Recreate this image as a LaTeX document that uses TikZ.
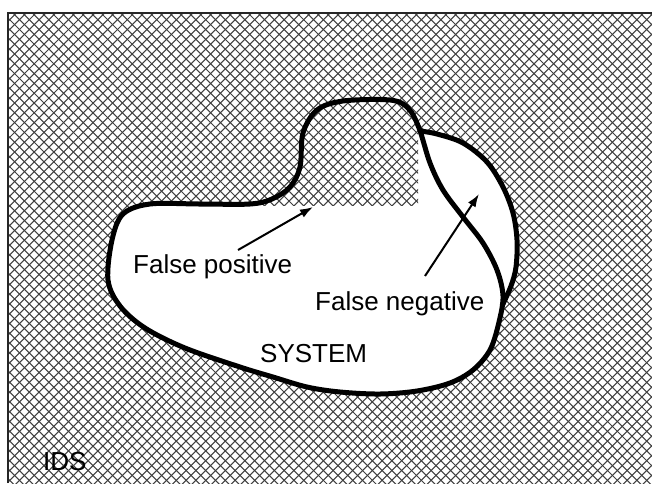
\documentclass[tikz,border=0pt]{standalone}
\usepackage{fontspec}
\setmainfont{Liberation Sans}
\usetikzlibrary{arrows.meta}
\tikzset{
  hatchline/.style={draw=black!75, line width=1.05pt},
  outline/.style={draw=black, line width=5pt, line join=round},
  lbl/.style={inner sep=0pt, anchor=base west, font=\fontsize{26}{30}\selectfont},
  pointer/.style={draw=black, line width=2pt, -{Latex[length=13pt,width=9pt]}}
}
\newcommand{\hatchall}{%
  \foreach \c in {0,9.8,...,1160} {\draw[hatchline] (\c,0) -- ({\c-500},500);}
  \foreach \c in {-500,-490.2,...,660} {\draw[hatchline] (\c,0) -- ({\c+500},500);}
}
\begin{document}
\begin{tikzpicture}[x=1pt,y=-1pt]
\useasboundingbox (0,0) rectangle (652,483);
\fill[white] (0,0) rectangle (652,483);
% hatch background (IDS)
\begin{scope}
  \clip (8,13) rectangle (652,483);
  \hatchall
\end{scope}
\draw[black!85, line width=1.5pt] (8,483) -- (8,13) -- (652,13);
% shapes
\def\systempath{plot[smooth cycle, tension=0.55] coordinates {
  (108,280) (112,240) (123,214) (150,204) (200,204) (250,204) (272,199)
  (290,187) (300,167) (303,133) (317,110) (343,101) (390,100) (408,108)
  (419,128) (430,163) (443,190) (463,217) (483,243) (497,270) (503,296)
  (499,322) (490,350) (473,370) (450,383) (417,391) (380,394) (340,392)
  (307,387) (273,377) (240,367) (185,348) (145,328) (120,306)}}
\def\arcpath{plot[smooth, tension=0.55] coordinates {
  (420,131) (437,134) (463,143) (487,162) (503,187) (513,213) (517,240)
  (516,267) (511,286) (502,306)}}
\fill[white] \systempath;
\fill[white] \arcpath -- (497,270) -- (483,243) -- (463,217) -- (443,190) -- (430,163) -- (420,130) -- cycle;
% hatch re-applied in the bump (false positive region)
\begin{scope}
  \clip \systempath;
  \clip (240,60) rectangle (418,205);
  \hatchall
\end{scope}
\draw[outline] \systempath;
\draw[outline] \arcpath;
% labels
\node[lbl] (fp) at (133,273) {False positive};
\node[lbl] (fn) at (315,310) {False negative};
\node[lbl] (sys) at (260,362) {SYSTEM};
\node[lbl] (ids) at (43,470) {IDS};
\coordinate (fptail) at (238,250);
\coordinate (fptip) at (313,207);
\coordinate (fntail) at (425,276);
\coordinate (fntip) at (479,194);
\draw[pointer] (fptail) -- (fptip);
\draw[pointer] (fntail) -- (fntip);
\end{tikzpicture}
\end{document}
